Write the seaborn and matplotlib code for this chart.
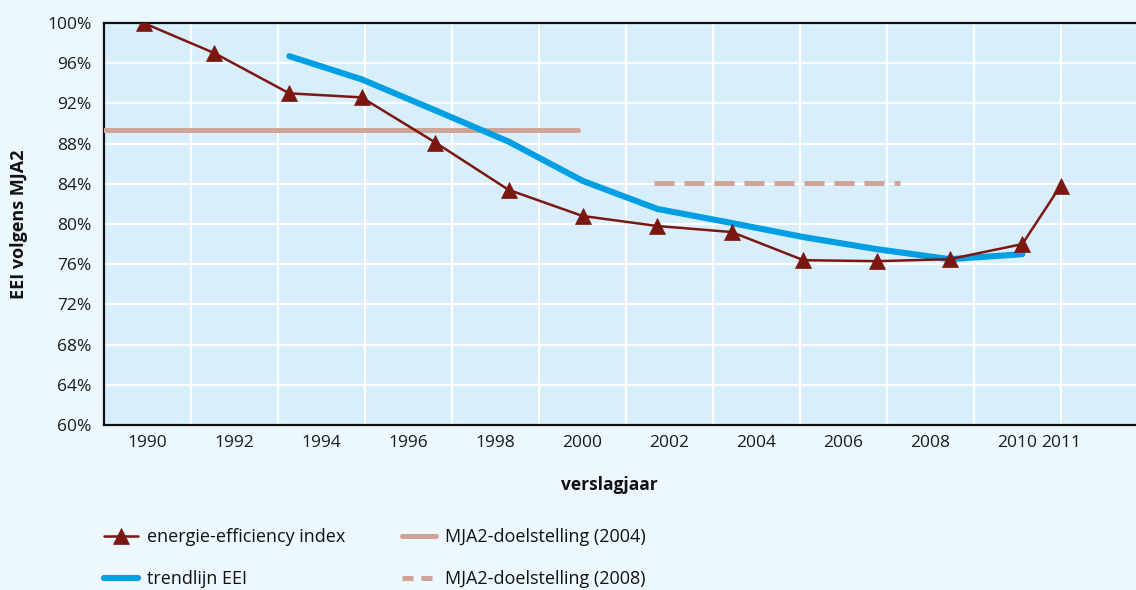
import numpy as np
import pandas as pd
import seaborn as sns
import matplotlib.pyplot as plt

# energie-efficiency index
eei_x = [1989.91, 1991.54, 1993.26, 1994.92, 1996.62, 1998.30, 2000.00,
         2001.72, 2003.43, 2005.08, 2006.76, 2008.44, 2010.11, 2010.99]
eei_y = [100.0, 97.0, 93.0, 92.6, 88.1, 83.4, 80.8, 79.8, 79.2, 76.4, 76.3, 76.5, 78.0, 83.8]

# trendlijn EEI
trend_x = [1993.26, 1994.92, 1996.62, 1998.30, 2000.00, 2001.72, 2003.43,
           2005.08, 2006.76, 2008.44, 2010.11]
trend_y = [96.7, 94.4, 91.3, 88.2, 84.3, 81.5, 80.1, 78.7, 77.5, 76.5, 77.0]

# MJA2 targets
goal2004_x = [1989.0, 1999.9]
goal2004_y = [89.35, 89.35]
goal2008_x = [2001.65, 2007.3]
goal2008_y = [84.1, 84.1]

tick_years = [1990, 1992, 1994, 1996, 1998, 2000, 2002, 2004, 2006, 2008, 2010, 2011]
grid_years = [1991, 1993, 1995, 1997, 1999, 2001, 2003, 2005, 2007, 2009, 2011]
y_ticks = [60, 64, 68, 72, 76, 80, 84, 88, 92, 96, 100]

sns.set_theme(style="white")
plt.rcParams['font.family'] = ['Open Sans', 'DejaVu Sans']

brown = '#7a1711'
blue = '#009fe3'
rose = '#cfa396'

fig = plt.figure(figsize=(11.36, 5.9), dpi=100, facecolor='#edf7fe')
ax = fig.add_axes([104/1136, 1-425/590, 1-104/1136, 402/590])
ax.set_facecolor('#d8effb')

sns.lineplot(x=goal2004_x, y=goal2004_y, ax=ax, color=rose, lw=3.6,
             label='MJA2-doelstelling (2004)', zorder=3)
sns.lineplot(x=goal2008_x, y=goal2008_y, ax=ax, color=rose, lw=3.6,
             label='MJA2-doelstelling (2008)', zorder=3)
ax.lines[-1].set_dashes((4, 2))
sns.lineplot(x=trend_x, y=trend_y, ax=ax, color=blue, lw=4.4,
             label='trendlijn EEI', zorder=4)
sns.lineplot(x=eei_x, y=eei_y, ax=ax, color=brown, lw=1.8, marker='^',
             markersize=11, markeredgecolor=brown, markeredgewidth=0.5,
             label='energie-efficiency index', zorder=5)

ax.set_xlim(1989, 1989 + (1136-104)/43.5)
ax.set_ylim(60, 100)

ax.xaxis.remove_overlapping_locs = False
ax.set_xticks(grid_years)
ax.set_xticklabels([])
ax.set_xticks(tick_years, minor=True)
ax.set_xticklabels([str(y) for y in tick_years], minor=True)
ax.set_yticks(y_ticks)
ax.set_yticklabels([f'{v}%' for v in y_ticks])
ax.tick_params(axis='x', which='both', length=0, pad=7, labelsize=12.5, colors='#1a1a1a')
ax.tick_params(axis='y', length=0, pad=9, labelsize=12.5, colors='#1a1a1a')
ax.grid(True, which='major', color='white', lw=1.6)
ax.set_axisbelow(True)

for side in ['left', 'bottom', 'top']:
    ax.spines[side].set_visible(True)
    ax.spines[side].set_color('#111111')
    ax.spines[side].set_linewidth(1.6)
ax.spines['right'].set_visible(False)

ax.set_ylabel('EEI volgens MJA2', fontsize=13, fontweight='bold', color='#111111')
ax.yaxis.set_label_coords(-0.074, 0.5)
ax.set_xlabel('verslagjaar', fontsize=12.5, fontweight='bold', color='#111111')
ax.xaxis.set_label_coords(0.49, -0.128)

handles, labels = ax.get_legend_handles_labels()
ax.get_legend().remove()
order = [3, 2, 0, 1]
leg = fig.legend([handles[i] for i in order], [labels[i] for i in order],
                 loc='upper left', bbox_to_anchor=(104/1136, 1-528/590), ncol=2,
                 frameon=False, borderpad=0, borderaxespad=0, fontsize=13,
                 handlelength=1.9, handletextpad=0.5, labelspacing=1.35,
                 columnspacing=3.1, labelcolor='#111111')
# shorter dashes in the legend key, like the original
leg.get_lines()[3].set_dashes((2.2, 1.6))

fig.savefig('out.png', dpi=100, facecolor=fig.get_facecolor())
